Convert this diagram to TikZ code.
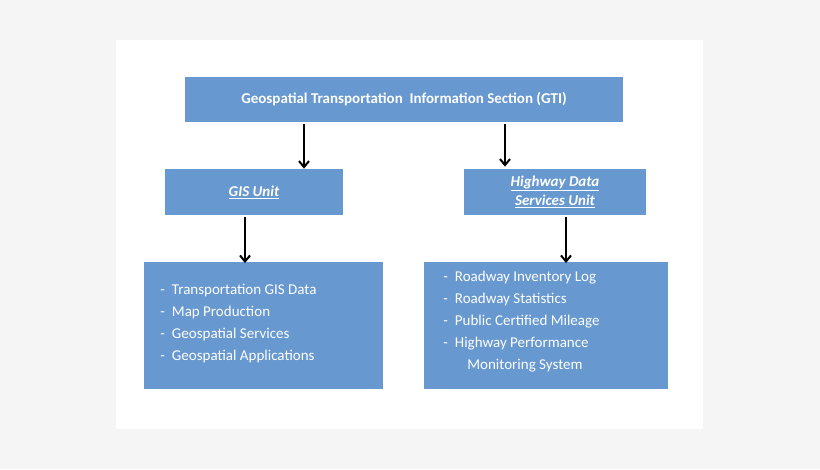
\documentclass[tikz,border=0pt]{standalone}
\usepackage{fontspec}
\setmainfont{Carlito}
\usetikzlibrary{arrows.meta}
\definecolor{boxblue}{RGB}{103,152,208}
\definecolor{pagegray}{RGB}{245,245,245}
\tikzset{every picture/.style={line width=0.75pt}}
\tikzset{
  unit/.style={fill=boxblue, draw=none, text=white, align=center, inner sep=0pt, font=\fontsize{15}{17}\selectfont\bfseries\itshape},
  list/.style={fill=boxblue, draw=none, text=white, align=left, inner sep=0pt, font=\fontsize{15}{22}\selectfont},
  down/.style={-{Straight Barb[length=6pt,width=10pt]}, line width=2pt}
}

\begin{document}
\begin{tikzpicture}[x=1pt,y=1pt,yscale=-1,xscale=1]
\useasboundingbox (0,0) rectangle (820,469);
\fill[pagegray] (0,0) rectangle (820,469);
\fill[white] (116,40) rectangle (703,429);

% boxes
\node (gti) [unit, font=\fontsize{15}{17}\selectfont\bfseries, minimum width=438, minimum height=45] at (404,99.5) {Geospatial Transportation~ Information Section (GTI)};
\node (gis) [unit, minimum width=178, minimum height=46] at (254,192) {\underline{GIS Unit}};
\node (hds) [unit, minimum width=182, minimum height=46] at (555,192) {\underline{Highway Data}\\[2pt]\underline{Services Unit}};
\node (gislist) [list, minimum width=239, minimum height=127, anchor=north west] at (144,262) {};
\node (gisitems) at (160,324) [list, fill=none, anchor=west] {-\hspace{7pt}Transportation GIS Data\\-\hspace{7pt}Map Production\\-\hspace{7pt}Geospatial Services\\-\hspace{7pt}Geospatial Applications};
\node (hdslist) [list, minimum width=244, minimum height=127, anchor=north west] at (424,262) {};
\node (hdsitems) at (443,322) [list, fill=none, anchor=west] {-\hspace{7pt}Roadway Inventory Log\\-\hspace{7pt}Roadway Statistics\\-\hspace{7pt}Public Certified Mileage\\-\hspace{7pt}Highway Performance\\\hspace{24pt}Monitoring System};

% arrow ends
\coordinate (a1) at (304,124);
\coordinate (a2) at (505,124);
\coordinate (a3) at (245,217);
\coordinate (a4) at (566,217);

\draw[down] (a1) -- (a1 |- gis.north);
\draw[down] (a2) -- ([yshift=-2pt]a2 |- hds.north);
\draw[down] (a3) -- ([yshift=1pt]a3 |- gislist.north);
\draw[down] (a4) -- ([yshift=1pt]a4 |- hdslist.north);
\end{tikzpicture}
\end{document}
